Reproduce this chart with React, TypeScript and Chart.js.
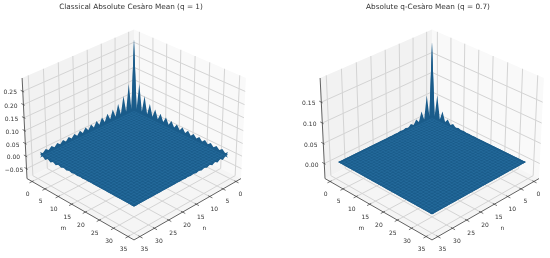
import React, { useEffect, useRef } from "react";
import { Chart, registerables } from "chart.js";

Chart.register(...registerables);

const titleLeft = "Classical Absolute Cesàro Mean (q = 1)";
const titleRight = "Absolute q-Cesàro Mean (q = 0.7)";
const gridTicks = [0, 5, 10, 15, 20, 25, 30, 35];
const zTicksLeft = [-0.05, 0, 0.05, 0.1, 0.15, 0.2, 0.25];
const zTicksRight = [0, 0.05, 0.1, 0.15];

// Surface height along the back edges (index 0..34 = n or m).
const edgeLeft = [
  0.28, 0.004, 0.112, 0.005, 0.074, 0.005, 0.052, 0.005, 0.04, 0.005, 0.033, 0.005,
  0.028, 0.004, 0.025, 0.004, 0.022, 0.004, 0.02, 0.003, 0.018, 0.003, 0.016, 0.003,
  0.015, 0.002, 0.014, 0.002, 0.013, 0.002, 0.012, 0.002, 0.011, 0.001, 0.01,
];
const edgeRight = [
  0.187, 0.002, 0.06, 0.001, 0.025, 0.001, 0.011, 0, 0.006, 0, 0.003, 0,
  0.002, 0, 0.001, 0, 0.001, 0, 0, 0, 0, 0, 0, 0,
  0, 0, 0, 0, 0, 0, 0, 0, 0, 0, 0,
];
// Small dips along the front edges, starting at the side corners.
const frontLeft = [
  -0.012, 0, -0.01, 0, -0.008, 0, -0.007, 0, -0.006, 0, -0.005, 0,
  -0.004, 0, -0.003, 0, -0.002, 0, -0.001, 0, 0, 0, 0, 0,
  0, 0, 0, 0, 0, 0, 0, 0, 0, 0, 0,
];
const frontRight = [
  0, 0, 0, 0, 0, 0, 0, 0, 0, 0, 0, 0,
  0, 0, 0, 0, 0, 0, 0, 0, 0, 0, 0, 0,
  0, 0, 0, 0, 0, 0, 0, 0, 0, 0, 0,
];

const AXIS_MIN = -2;
const AXIS_MAX = 37;
const PANEL_H = 258;
const SURF = "#1a5c8b";
const MESH = "#2d76a8";

type P = { x: number; y: number };

function makeProjector(cx: number, zMin: number, zMax: number) {
  const BX = 1.19, BZ = 0.893, D = 10, K = 130, CY = 129.4;
  const s = Math.SQRT1_2;
  return (m: number, n: number, z: number): P => {
    const a = BX * ((n - AXIS_MIN) / (AXIS_MAX - AXIS_MIN) - 0.5);
    const b = BX * ((m - AXIS_MIN) / (AXIS_MAX - AXIS_MIN) - 0.5);
    const c = BZ * ((z - zMin) / (zMax - zMin) - 0.5);
    const right = -s * a + s * b;
    const up = -0.5 * s * a - 0.5 * s * b + 0.866 * c;
    const w = 0.866 * s * a + 0.866 * s * b + 0.5 * c;
    const f = 1 / (1 - w / D);
    return { x: cx + K * right * f, y: CY - K * up * f };
  };
}

type Panel = {
  cx: number; width: number; zMin: number; zMax: number; edge: number[]; front: number[]; zTicks: number[]; title: string; titleX: number;
};

function buildDatasets(p: Panel) {
  const pr = makeProjector(p.cx, p.zMin, p.zMax);
  const { zMin, zMax, edge, front } = p;
  const lo = AXIS_MIN, hi = AXIS_MAX;
  const last = edge.length - 1;
  const out: any[] = [];
  const poly = (data: P[], color: string) =>
    out.push({ data, showLine: true, fill: "shape", backgroundColor: color, borderWidth: 0, pointRadius: 0, tension: 0, clip: false });
  const line = (data: P[], color: string, w: number) =>
    out.push({ data, showLine: true, fill: false, borderColor: color, borderWidth: w, pointRadius: 0, tension: 0, clip: false });

  // panes
  poly([pr(lo, hi, zMin), pr(lo, lo, zMin), pr(lo, lo, zMax), pr(lo, hi, zMax)], "#f2f2f2");
  poly([pr(hi, lo, zMin), pr(lo, lo, zMin), pr(lo, lo, zMax), pr(hi, lo, zMax)], "#f9f9f9");
  poly([pr(lo, lo, zMin), pr(hi, lo, zMin), pr(hi, hi, zMin), pr(lo, hi, zMin)], "#f5f5f5");

  // grid
  const GRID = "#d4d4d4";
  for (const t of gridTicks) {
    line([pr(t, hi, zMin), pr(t, lo, zMin), pr(t, lo, zMax)], GRID, 1);
    line([pr(hi, t, zMin), pr(lo, t, zMin), pr(lo, t, zMax)], GRID, 1);
  }
  for (const z of p.zTicks) {
    line([pr(lo, hi, z), pr(lo, lo, z), pr(hi, lo, z)], GRID, 1);
  }

  // axis lines and ticks
  const AX = "#3a3a3a";
  line([pr(lo, hi, zMin), pr(hi, hi, zMin), pr(hi, lo, zMin)], AX, 0.8);
  line([pr(lo, hi, zMin), pr(lo, hi, zMax)], AX, 0.8);
  for (const t of gridTicks) {
    line([pr(t, hi - 0.5, zMin), pr(t, hi + 0.9, zMin)], AX, 0.7);
    line([pr(hi - 0.5, t, zMin), pr(hi + 0.9, t, zMin)], AX, 0.7);
  }
  for (const z of p.zTicks) {
    line([pr(lo + 0.5, hi, z), pr(lo - 0.8, hi, z)], AX, 0.7);
  }

  // ridges behind the flat sheet
  const idx = edge.map((_, i) => i);
  poly([...idx.map((k) => pr(0, k, edge[k])), pr(1, last, 0), pr(1, 0, 0)], SURF);
  poly([...idx.map((k) => pr(k, 0, edge[k])), pr(last, 1, 0), pr(0, 1, 0)], SURF);
  // dips on the front edges
  poly([...idx.map((k) => pr(k, last, front[k])), pr(last, last - 1, 0), pr(0, last - 1, 0)], SURF);
  poly([...idx.map((k) => pr(last, k, front[k])), pr(last - 1, last, 0), pr(last - 1, 0, 0)], SURF);
  // flat sheet
  poly([pr(0, 0, 0), pr(last, 0, 0), pr(last, last, 0), pr(0, last, 0)], SURF);
  // mesh
  for (let i = 1; i < last; i++) {
    line([pr(i, 1, 0), pr(i, last, 0)], MESH, 0.4);
    line([pr(1, i, 0), pr(last, i, 0)], MESH, 0.4);
  }
  return out.reverse();
}

const FONT = "6px 'DejaVu Sans'";

function textPlugin(p: Panel) {
  const { zMin, zMax } = p;
  const pr = makeProjector(p.cx, zMin, zMax);
  return {
    id: "labels3d",
    afterDatasetsDraw(chart: any) {
      const { ctx, scales } = chart;
      const X = (v: number) => scales.x.getPixelForValue(v);
      const Y = (v: number) => scales.y.getPixelForValue(v);
      ctx.save();
      ctx.fillStyle = "#333333";
      ctx.textAlign = "center";
      ctx.textBaseline = "middle";
      ctx.font = "7.3px 'DejaVu Sans'";
      ctx.fillText(p.title, X(p.titleX), Y(7));
      ctx.font = FONT;
      for (const t of gridTicks) {
        const a = pr(t, AXIS_MAX, zMin);
        ctx.fillText(String(t), X(a.x - 4.5), Y(a.y + 13));
        const b = pr(AXIS_MAX, t, zMin);
        ctx.fillText(String(t), X(b.x + 4.5), Y(b.y + 13));
      }
      const ma = pr(17.5, AXIS_MAX, zMin);
      ctx.fillText("m", X(ma.x - 15), Y(ma.y + 20));
      const na = pr(AXIS_MAX, 17.5, zMin);
      ctx.fillText("n", X(na.x + 15), Y(na.y + 20));
      for (const z of p.zTicks) {
        const a = pr(AXIS_MIN, AXIS_MAX, z);
        const label = (z < 0 ? "\u2212" : "") + Math.abs(z).toFixed(2);
        ctx.fillText(label, X(a.x - 12.5), Y(a.y + 1.5));
      }
      ctx.restore();
    },
  };
}

const panels: Panel[] = [
  { cx: 134, width: 275, zMin: -0.09, zMax: 0.3, edge: edgeLeft, front: frontLeft, zTicks: zTicksLeft, title: titleLeft, titleX: 131 },
  { cx: 157, width: 275, zMin: -0.038, zMax: 0.207, edge: edgeRight, front: frontRight, zTicks: zTicksRight, title: titleRight, titleX: 153 },
];

function Panel3D({ panel, left }: { panel: Panel; left: number }) {
  const ref = useRef<HTMLCanvasElement>(null);
  useEffect(() => {
    const chart = new Chart(ref.current!, {
      type: "scatter",
      data: { datasets: buildDatasets(panel) },
      options: {
        animation: false,
        responsive: false,
        layout: { padding: 0 },
        plugins: { legend: { display: false }, tooltip: { enabled: false } },
        scales: {
          x: { type: "linear", display: false, min: 0, max: panel.width },
          y: { type: "linear", display: false, min: 0, max: PANEL_H, reverse: true },
        },
      },
      plugins: [textPlugin(panel)],
    } as any);
    return () => chart.destroy();
  }, [panel]);
  return (
    <canvas
      ref={ref}
      width={panel.width}
      height={PANEL_H}
      style={{ position: "absolute", left, top: 0, width: panel.width, height: PANEL_H }}
    />
  );
}

export default function App() {
  return (
    <div style={{ position: "fixed", left: 0, top: 0, width: 550, height: 258, background: "#fff" }}>
      <Panel3D panel={panels[0]} left={0} />
      <Panel3D panel={panels[1]} left={275} />
    </div>
  );
}
